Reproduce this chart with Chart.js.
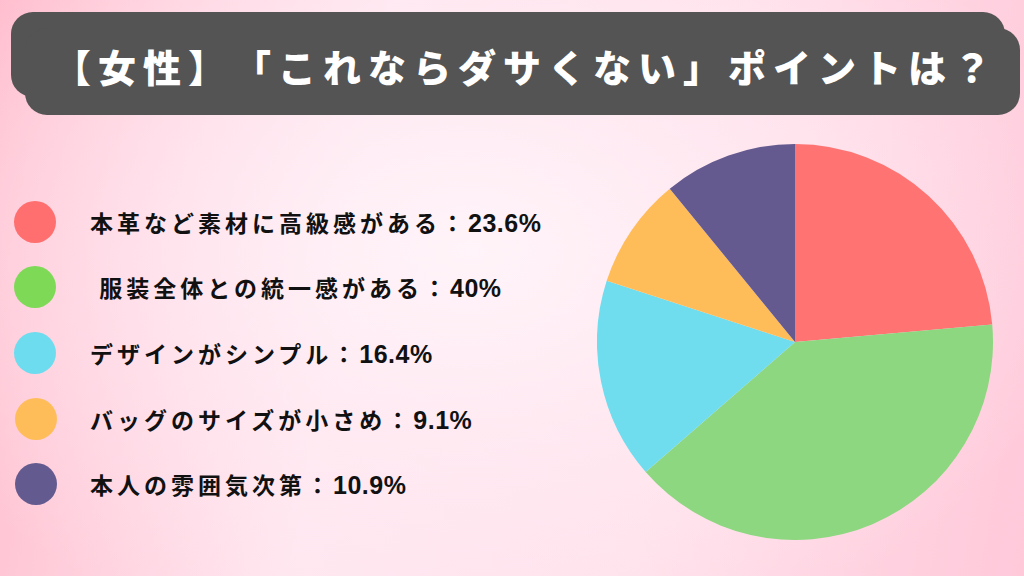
<!DOCTYPE html>
<html lang="ja">
<head>
<meta charset="utf-8">
<script src="https://cdn.jsdelivr.net/npm/chart.js@4.4.1/dist/chart.umd.min.js"></script>
<style>
  html, body { margin:0; padding:0; }
  body {
    width:1024px; height:576px; overflow:hidden; position:relative;
    font-family: "Noto Sans CJK JP", "Noto Sans", sans-serif;
    text-spacing-trim: space-all;
    background:
      radial-gradient(ellipse 620px 420px at 470px 250px, rgba(255,244,249,1) 0%, rgba(255,236,244,0.7) 45%, rgba(255,228,238,0) 100%),
      linear-gradient(100deg, #ffbccd 0%, #ffe6ef 35%, #ffe0ea 65%, #ffc9da 100%);
  }
  .tbox { position:absolute; background:#545454; border-radius:22px; }
  #title {
    position:absolute; left:11px; top:14px; width:1009px; height:103px;
    display:flex; align-items:center; justify-content:center;
    color:#fff; font-weight:900; font-size:38px; letter-spacing:7px;
    padding-left:20px; box-sizing:border-box; white-space:nowrap;
    text-spacing-trim: space-all;
  }
  #legend { position:absolute; left:0; top:0; }
  .dot { position:absolute; width:42px; height:42px; border-radius:50%; }
  .lbl { position:absolute; left:90px; font-weight:700; font-size:23px; letter-spacing:4px; color:#111; line-height:44px; }
  .num { font-family:"Liberation Sans Narrow","Liberation Sans","DejaVu Sans Condensed",sans-serif; font-weight:700; font-size:25px; letter-spacing:0.5px; }
  #wrap { position:absolute; left:597px; top:144px; width:396px; height:396px; }
</style>
</head>
<body>
<div class="tbox" style="left:11px; top:12px; width:994px; height:85px;"></div>
<div class="tbox" style="left:25px; top:28px; width:995px; height:87px;"></div>
<div id="title"></div>
<div id="legend"></div>
<div id="wrap"><canvas id="c" width="396" height="396"></canvas></div>
<script>
const titleText = "【女性】「これならダサくない」ポイントは？";
const categories = ["本革など素材に高級感がある", " 服装全体との統一感がある", "デザインがシンプル", "バッグのサイズが小さめ", "本人の雰囲気次第"];
const values = [23.6, 40, 16.4, 9.1, 10.9];
const sliceColors = ["#ff7373", "#8dd780", "#6fddee", "#ffbd5a", "#645a8f"];
const legendColors = ["#ff6f6f", "#7ed957", "#6edcef", "#ffbd59", "#635a8f"];

document.getElementById('title').textContent = titleText;

const legendYs = [222, 287, 353, 419, 484];
const leg = document.getElementById('legend');
categories.forEach((cat, i) => {
  const dot = document.createElement('div');
  dot.className = 'dot';
  dot.style.left = (i >= 3 ? 15 : 14) + 'px';
  dot.style.top = (legendYs[i] - 21) + 'px';
  dot.style.background = legendColors[i];
  leg.appendChild(dot);
  const lbl = document.createElement('div');
  lbl.className = 'lbl';
  lbl.style.top = (legendYs[i] - 22) + 'px';
  lbl.style.whiteSpace = 'pre';
  lbl.appendChild(document.createTextNode(cat + "："));
  const num = document.createElement('span');
  num.className = 'num';
  num.textContent = values[i] + "%";
  lbl.appendChild(num);
  leg.appendChild(lbl);
});

new Chart(document.getElementById('c'), {
  type: 'pie',
  data: {
    labels: categories.map(s => s.trim()),
    datasets: [{ data: values, backgroundColor: sliceColors, borderWidth: 0 }]
  },
  options: {
    responsive: false,
    animation: false,
    layout: { padding: 0 },
    plugins: { legend: { display: false }, tooltip: { enabled: false } }
  }
});
</script>
</body>
</html>
